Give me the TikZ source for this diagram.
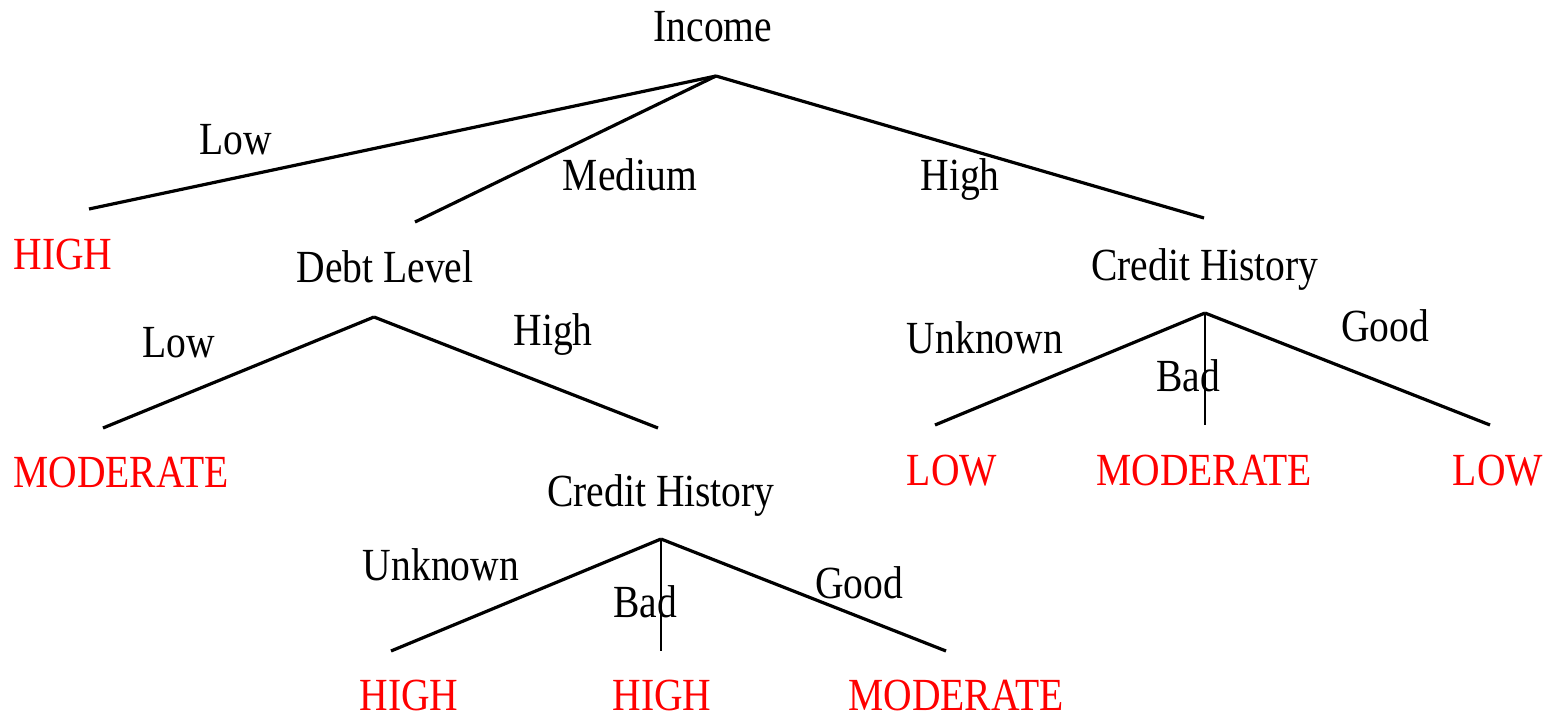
\documentclass[tikz,border=0pt]{standalone}
\usepackage{fontspec}
\setmainfont{Liberation Serif}[FakeStretch=0.86]
\usepackage{tikz}
\usetikzlibrary{positioning}

\begin{document}
\begin{tikzpicture}[
    x=1pt, y=-1pt,
    attr/.style={anchor=base, inner sep=0pt, font=\fontsize{46}{50}\selectfont},
    value/.style={anchor=base, inner sep=0pt, font=\fontsize{46}{50}\selectfont},
    leaf/.style={anchor=base, inner sep=0pt, text=red, font=\fontsize{46}{50}\selectfont},
    branchline/.style={line width=3.2pt},
    midline/.style={line width=2pt}
]
\useasboundingbox (0,0) rectangle (1547,717);

% root: income
\node (income) [attr] at (713,42) {Income};
\coordinate (income-top) at (716,76);
\coordinate (income-low) at (89,209);
\coordinate (income-med) at (415,222);
\coordinate (income-high) at (1204,218);
\node (l-low) [value] at (236,154) {Low};
\node (l-med) [value] at (630,190) {Medium};
\node (l-high) [value] at (960,190) {High};
\node (risk1) [leaf] at (63,269) {HIGH};

% medium income: debt level
\node (debt) [attr] at (385,282) {Debt Level};
\coordinate (debt-top) at (374,317);
\coordinate (debt-low) at (103,428);
\coordinate (debt-high) at (658,428);
\node (d-low) [value] at (179,357) {Low};
\node (d-high) [value] at (553,345) {High};
\node (risk2) [leaf] at (121,487) {MODERATE};

% high debt: credit history
\node (credit1) [attr] at (661,506) {Credit History};
\coordinate (credit1-top) at (661,539);
\coordinate (credit1-unk) at (391,651);
\coordinate (credit1-bad) at (661,651);
\coordinate (credit1-good) at (946,651);
\node (c1-unk) [value] at (441,580) {Unknown};
\node (c1-bad) [value] at (645,617) {Bad};
\node (c1-good) [value] at (859,598) {Good};
\node (risk3) [leaf] at (409,710) {HIGH};
\node (risk4) [leaf] at (662,710) {HIGH};
\node (risk5) [leaf] at (956,710) {MODERATE};

% high income: credit history
\node (credit2) [attr] at (1205,280) {Credit History};
\coordinate (credit2-top) at (1205,313);
\coordinate (credit2-unk) at (935,425);
\coordinate (credit2-bad) at (1205,425);
\coordinate (credit2-good) at (1490,425);
\node (c2-unk) [value] at (985,353) {Unknown};
\node (c2-bad) [value] at (1188,391) {Bad};
\node (c2-good) [value] at (1385,341) {Good};
\node (risk6) [leaf] at (952,485) {LOW};
\node (risk7) [leaf] at (1204,485) {MODERATE};
\node (risk8) [leaf] at (1498,485) {LOW};

\draw [branchline] (income-top) -- (income-low);
\draw [branchline] (income-top) -- (income-med);
\draw [branchline] (income-top) -- (income-high);
\draw [branchline] (debt-top) -- (debt-low);
\draw [branchline] (debt-top) -- (debt-high);
\draw [branchline] (credit1-top) -- (credit1-unk);
\draw [midline] (credit1-top) -- (credit1-bad);
\draw [branchline] (credit1-top) -- (credit1-good);
\draw [branchline] (credit2-top) -- (credit2-unk);
\draw [midline] (credit2-top) -- (credit2-bad);
\draw [branchline] (credit2-top) -- (credit2-good);

\end{tikzpicture}
\end{document}
